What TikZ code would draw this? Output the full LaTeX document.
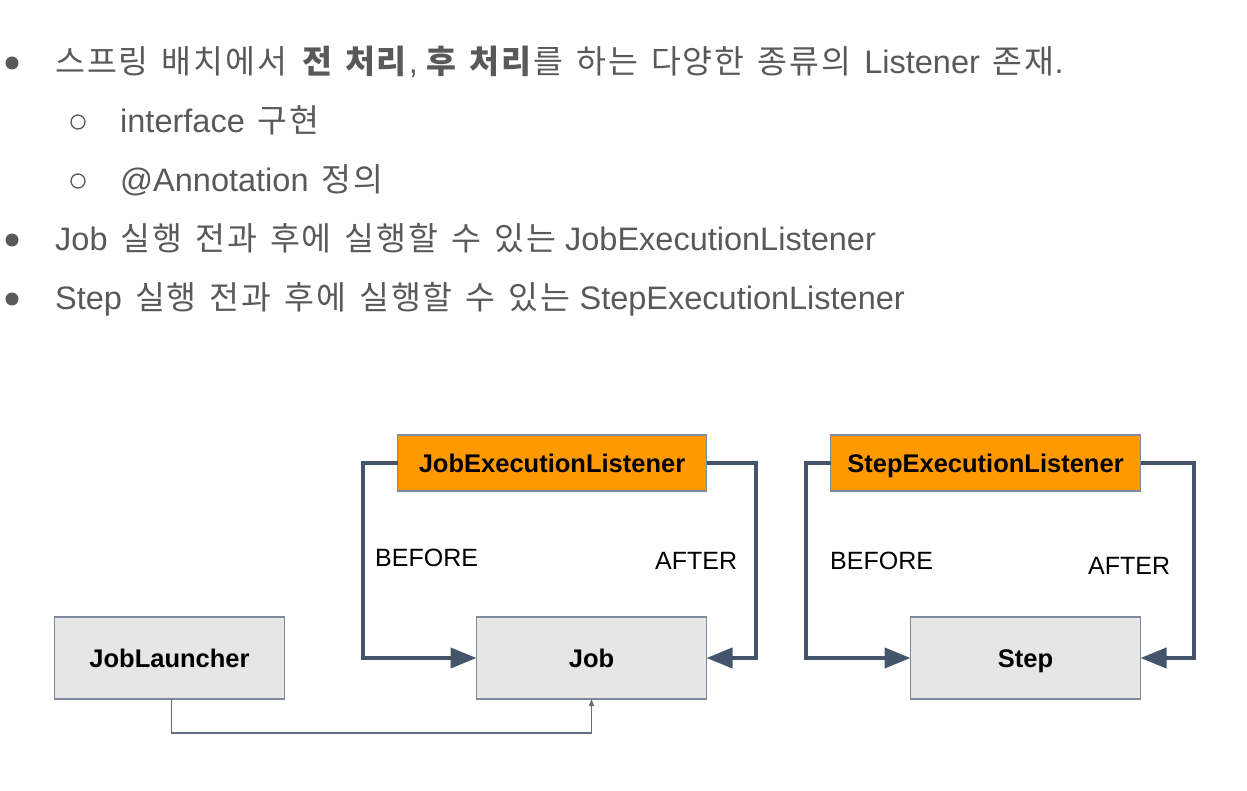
\documentclass[tikz,border=0pt]{standalone}
\usepackage{fontspec}
\setmainfont{Liberation Sans}
\newfontfamily\krfont{Noto Sans CJK KR}[LetterSpace=6]
\newcommand{\ko}[1]{{\krfont\spaceskip=0.4em\relax #1}}
\usetikzlibrary{arrows.meta, positioning}
\definecolor{textgray}{HTML}{595959}
\definecolor{slate}{HTML}{44546A}
\definecolor{boxborder}{HTML}{7F8B9B}
\definecolor{boxgray}{HTML}{E6E6E6}
\definecolor{listenerorange}{HTML}{FF9900}
\tikzset{
    bullettext/.style={anchor=base west, inner sep=0pt, text=textgray, font=\fontsize{32.5}{38}\selectfont},
    block/.style={rectangle, draw=boxborder, line width=1.5pt, fill=boxgray, minimum width=230pt, minimum height=82pt, inner sep=0pt, outer sep=0pt, text centered, text height=18.4pt, text depth=0pt, font=\fontsize{25.5}{30}\selectfont\bfseries},
    listener/.style={block, fill=listenerorange, minimum width=309pt, minimum height=56pt},
    hook/.style={line width=4pt, draw=slate, -{Triangle[length=26pt, width=20pt]}},
    call/.style={line width=1.3pt, draw=slate!85, -{Triangle[length=7pt, width=5pt]}},
    hooklabel/.style={anchor=west, inner sep=0pt, font=\fontsize{25}{30}\selectfont}
}

\begin{document}
\begin{tikzpicture}[x=1pt, y=-1pt]
    \useasboundingbox (0,0) rectangle (1247,791);
    % Bullets
    \fill [textgray] (12,63) circle (6.5);
    \draw [textgray, line width=1.3pt] (78,122) circle (7);
    \draw [textgray, line width=1.3pt] (78,181) circle (7);
    \fill [textgray] (12,240) circle (6.5);
    \fill [textgray] (12,299) circle (6.5);
    \node (line1) [bullettext] at (55,74) {\ko{스프링 배치에서 \textbf{전 처리}}, \ko{\textbf{후 처리}를 하는 다양한 종류의 }Listener\ko{ 존재}.};
    \node (line2) [bullettext] at (120,133) {interface\ko{ 구현}};
    \node (line3) [bullettext] at (120,192) {@Annotation\ko{ 정의}};
    \node (line4) [bullettext] at (55,251) {Job\ko{ 실행 전과 후에 실행할 수 있는} JobExecutionListener};
    \node (line5) [bullettext] at (55,310) {Step\ko{ 실행 전과 후에 실행할 수 있는} StepExecutionListener};
    % Nodes
    \node (job) [block] at (591.5,658) {Job};
    \node (jobListener) [listener, above left=126pt and 0pt of job.north east] {JobExecutionListener};
    \node (launcher) [block, left=192pt of job] {JobLauncher};
    \node (step) [block, right=204pt of job] {Step};
    \node (stepListener) [listener, minimum width=310pt, above left=126pt and 0pt of step.north east] {StepExecutionListener};
    \node (jobBefore) [hooklabel] at (375,558) {BEFORE};
    \node (jobAfter) [hooklabel] at (655,561) {AFTER};
    \node (stepBefore) [hooklabel] at (830,561) {BEFORE};
    \node (stepAfter) [hooklabel] at (1088,566) {AFTER};
    % Arrows
    \draw [hook] (jobListener.west) -- ++(-35,0) |- (job.west);
    \draw [hook] (jobListener.east) -- ++(49,0) |- (job.east);
    \draw [hook] (stepListener.west) -- ++(-25,0) |- (step.west);
    \draw [hook] (stepListener.east) -- ++(53,0) |- (step.east);
    \draw [call] ([xshift=2pt]launcher.south) -- ++(0,34) -| (job.south);
\end{tikzpicture}
\end{document}
